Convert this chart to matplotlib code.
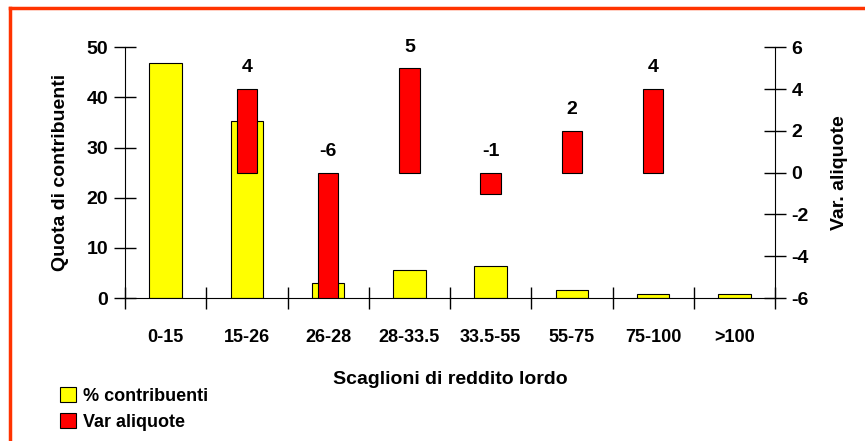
import matplotlib
matplotlib.use("Agg")
import matplotlib.pyplot as plt
from matplotlib.patches import Patch
from matplotlib.lines import Line2D
import numpy as np

plt.rcParams['font.family'] = ['Liberation Sans', 'DejaVu Sans']
plt.rcParams['font.weight'] = 'bold'
plt.rcParams['axes.labelweight'] = 'bold'

categorie = ['0-15', '15-26', '26-28', '28-33.5', '33.5-55', '55-75', '75-100', '>100']
contribuenti = [46.8, 35.3, 3.0, 5.6, 6.4, 1.6, 0.8, 0.8]
var_aliquote = [None, 4, -6, 5, -1, 2, 4, None]

FS = 13

fig = plt.figure(figsize=(8.65, 4.41), dpi=100)
ax = fig.add_axes([0.1445, 0.324, 0.7515, 0.569])
ax2 = ax.twinx()

x = np.arange(len(categorie))
ax.bar(x, contribuenti, width=0.4, color='#FFFF00', edgecolor='black', linewidth=0.8, zorder=2)

xr = [i for i, v in zip(x, var_aliquote) if v is not None]
vr = [v for v in var_aliquote if v is not None]
ax2.bar(xr, vr, width=0.25, color='#FF0000', edgecolor='black', linewidth=0.8, zorder=3)
for xi, v in zip(xr, vr):
    ax2.text(xi, max(v, 0) + 0.6, str(v), ha='center', va='bottom', fontsize=FS + 1)

ax.set_xlim(-0.5, len(categorie) - 0.5)
ax.set_ylim(0, 50)
ax2.set_ylim(-6, 6)
ax.set_yticks([0, 10, 20, 30, 40, 50])
ax2.set_yticks([-6, -4, -2, 0, 2, 4, 6])
ax2.set_yticklabels(['-6', '-4', '-2', '0', '2', '4', '6'])

ax.set_xticks(np.arange(len(categorie) + 1) - 0.5)
ax.set_xticklabels([])
ax.set_xticks(x, minor=True)
ax.set_xticklabels(categorie, minor=True, fontsize=FS)
ax.tick_params(axis='x', which='minor', length=0, pad=22)
ax.tick_params(axis='x', which='major', direction='inout', length=16, width=1)
ax.tick_params(axis='y', direction='inout', length=16, width=1, labelsize=FS + 1, pad=4)
ax2.tick_params(axis='y', direction='inout', length=16, width=1, labelsize=FS + 1, pad=4)

for a in (ax, ax2):
    a.spines['top'].set_visible(False)
ax.spines['right'].set_visible(False)
ax2.spines['left'].set_visible(False)
ax2.spines['bottom'].set_visible(False)

ax.set_ylabel('Quota di contribuenti', fontsize=FS + 1, labelpad=13)
ax2.set_ylabel('Var. aliquote', fontsize=FS + 1, labelpad=16)
ax.set_xlabel('Scaglioni di reddito lordo', fontsize=FS + 1, labelpad=18)

handles = [Patch(facecolor='#FFFF00', edgecolor='black', linewidth=0.8),
           Patch(facecolor='#FF0000', edgecolor='black', linewidth=0.8)]
fig.legend(handles, ['% contribuenti', 'Var aliquote'], loc='lower left',
           bbox_to_anchor=(0.05, -0.014), frameon=False, fontsize=FS,
           handlelength=0.9, handleheight=0.9, handletextpad=0.4, labelspacing=0.45)

# cornice arancione (solo lati superiore e sinistro visibili)
fig.add_artist(Line2D([0.011, 1.0], [0.982, 0.982], transform=fig.transFigure, color='#FF3300', linewidth=2.5))
fig.add_artist(Line2D([0.011, 0.011], [0.0, 0.982], transform=fig.transFigure, color='#FF3300', linewidth=2.5))

fig.savefig('out.png', dpi=100)
